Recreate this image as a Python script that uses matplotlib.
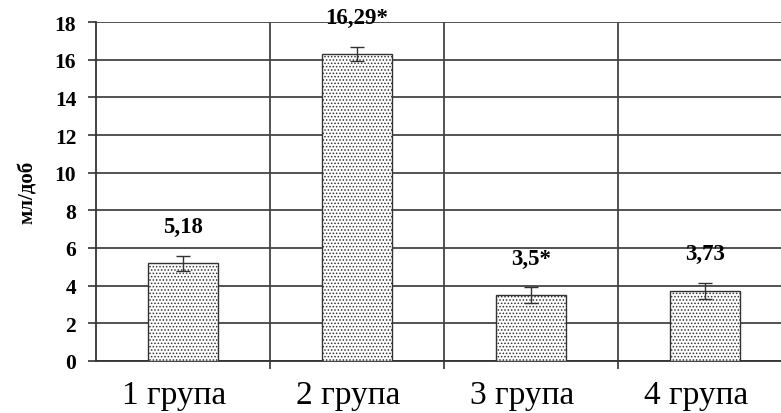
import matplotlib
matplotlib.use("Agg")
import matplotlib.pyplot as plt
import numpy as np

plt.rcParams['hatch.linewidth'] = 0.7
plt.rcParams['hatch.color'] = '#222222'

groups = ["1 група", "2 група", "3 група", "4 група"]
values = [5.18, 16.29, 3.5, 3.73]
errors = [0.38, 0.38, 0.42, 0.42]
labels = ["5,18", "16,29*", "3,5*", "3,73"]

SERIF = 'Liberation Serif'

fig = plt.figure(figsize=(7.81, 4.14), dpi=100)
ax = fig.add_axes([96/781, 52/414, 685/781, 339/414])

x = np.arange(len(groups))
ax.bar(x, values, width=0.4, color='white', edgecolor='#333333', linewidth=1.0,
       hatch='.....', zorder=3)
ax.errorbar(x, values, yerr=errors, fmt='none', ecolor='#333333', elinewidth=1.0,
            capsize=5, capthick=1.0, zorder=4)

for xi, v, lab in zip(x, values, labels):
    ax.annotate(lab, (xi, v), xytext=(0, 26.5), textcoords='offset points',
                ha='center', va='center', fontsize=16.5, fontweight='bold',
                family=SERIF, annotation_clip=False, zorder=5)

ax.set_xlim(-0.5, -0.5 + 685/174)
ax.set_ylim(0, 18)
ax.set_yticks(np.arange(0, 19, 2))
# category captions sit slightly left of the bar centres
ax.set_xticks(x - 0.05)
ax.set_xticklabels(groups, family=SERIF, fontsize=24)
ax.set_xticks(np.arange(len(groups) - 1) + 0.5, minor=True)
for t in ax.get_yticklabels():
    t.set_family(SERIF)
    t.set_fontweight('bold')
    t.set_fontsize(15.5)

ax.tick_params(axis='x', which='major', length=0, pad=13)
ax.tick_params(axis='x', which='minor', length=6, width=1.2, color='#333333', direction='out')
ax.tick_params(axis='y', length=5.8, width=1.2, color='#333333', pad=8.5)

ax.yaxis.grid(True, color='#444444', linewidth=1.3, zorder=0)
ax.xaxis.grid(True, which='minor', color='#444444', linewidth=1.3, zorder=0)
ax.set_axisbelow(True)

for s in ['top', 'right']:
    ax.spines[s].set_visible(False)
ax.spines['left'].set_color('#333333')
ax.spines['left'].set_linewidth(1.3)
ax.spines['bottom'].set_color('#333333')
ax.spines['bottom'].set_linewidth(1.3)

ax.set_ylabel("мл/доб", family=SERIF, fontweight='bold', fontsize=15, labelpad=12)

fig.savefig("out.png", dpi=100)
